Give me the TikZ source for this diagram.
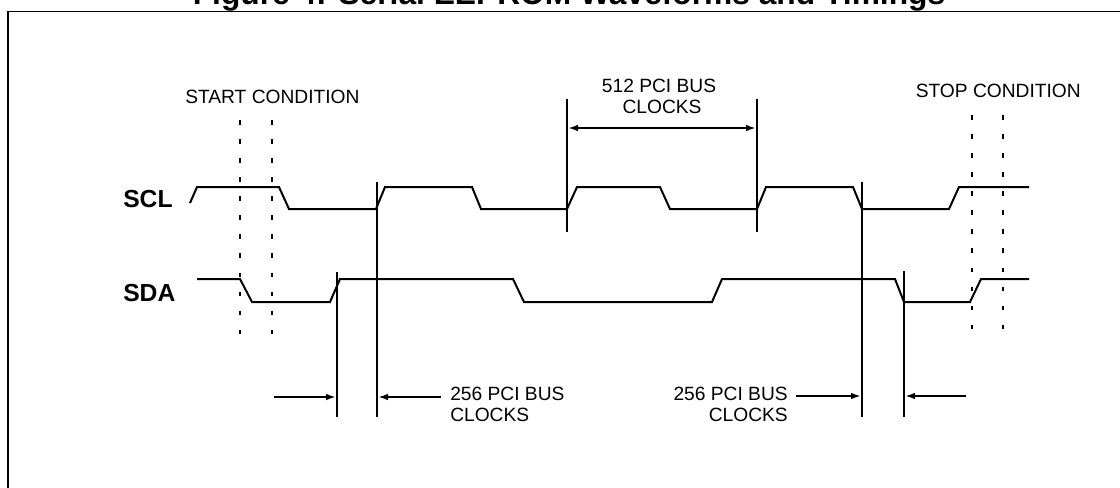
\documentclass[tikz,border=0pt]{standalone}
\usepackage{fontspec}
\setmainfont{Liberation Sans}
\usetikzlibrary{arrows.meta}
\begin{document}
\begin{tikzpicture}[x=0.75pt,y=-0.75pt,
  frame/.style={line width=1.4pt},
  wave/.style={line width=1.5pt, line join=miter},
  guide/.style={line width=1.5pt},
  dashguide/.style={line width=1.5pt, dash pattern=on 3.5pt off 10.8pt},
  dim/.style={line width=1.5pt, -{Latex[length=7.5pt,width=5pt]}},
  dimboth/.style={line width=1.5pt, {Latex[length=7.5pt,width=5pt]}-{Latex[length=7.5pt,width=5pt]}},
  lbl/.style={inner sep=0pt, font=\fontsize{14.4}{17}\selectfont},
  sig/.style={inner sep=0pt, font=\bfseries\fontsize{18.5}{21}\selectfont},
  ttl/.style={inner sep=0pt, font=\bfseries\fontsize{23.8}{28}\selectfont}]
\useasboundingbox (0,0) rectangle (1120,487);
% title (cut off by the top edge, as in the reference)
\node[ttl, anchor=base] (title) at (569,4.5) {Figure 4: Serial EEPROM Waveforms and Timings};
% frame
\draw[frame] (8,492) -- (8,11.5) -- (1125,11.5);
% labels
\node[lbl, anchor=base west] (start) at (185,103) {START CONDITION};
\node[lbl, anchor=base east] (stop) at (1081,97) {STOP CONDITION};
\node[lbl, anchor=base] (c512a) at (659,92) {512 PCI BUS};
\node[lbl, anchor=base] (c512b) at (662,113) {CLOCKS};
\node[lbl, anchor=base west] (c256la) at (450,400) {256 PCI BUS};
\node[lbl, anchor=base west] (c256lb) at (450,421) {CLOCKS};
\node[lbl, anchor=base east] (c256ra) at (788,400) {256 PCI BUS};
\node[lbl, anchor=base east] (c256rb) at (788,421) {CLOCKS};
\node[sig, anchor=base west] (scl) at (123,207) {SCL};
\node[sig, anchor=base west] (sda) at (123,301) {SDA};
% SCL waveform
\draw[wave] (190,203) -- (197,187) -- (279,187) -- (289,209) -- (376,209) -- (385,187)
  -- (472,187) -- (481,209) -- (567,209) -- (577,187) -- (660,187) -- (670,209)
  -- (757,209) -- (766,187) -- (853,187) -- (862,209) -- (949,209) -- (959,187) -- (1029,187);
% SDA waveform
\draw[wave] (197,279) -- (240,279) -- (252,302) -- (330,302) -- (340,279) -- (513,279)
  -- (524,302) -- (712,302) -- (722,279) -- (895,279) -- (904,302) -- (970,302)
  -- (981,279) -- (1029,279);
% dashed start / stop markers
\draw[dashguide] (240,120) -- (240,336);
\draw[dashguide] (272,120) -- (272,336);
\draw[dashguide] (972,115) -- (972,332);
\draw[dashguide] (1003,115) -- (1003,332);
% solid timing lines
\coordinate (v1t) at (337,272); \coordinate (v1b) at (337,417);
\coordinate (v2t) at (377,182); \coordinate (v2b) at (377,417);
\coordinate (v3t) at (567,99);  \coordinate (v3b) at (567,232);
\coordinate (v4t) at (757,99);  \coordinate (v4b) at (757,232);
\coordinate (v5t) at (862,182); \coordinate (v5b) at (862,417);
\coordinate (v6t) at (904,271); \coordinate (v6b) at (904,417);
\draw[guide] (v1t) -- (v1b);
\draw[guide] (v2t) -- (v2b);
\draw[guide] (v3t) -- (v3b);
\draw[guide] (v4t) -- (v4b);
\draw[guide] (v5t) -- (v5b);
\draw[guide] (v6t) -- (v6b);
% dimension arrows
\coordinate (a1s) at (274,397); \coordinate (a1e) at (336,397);
\coordinate (a2s) at (441,397); \coordinate (a2e) at (378,397);
\coordinate (a3s) at (568,128); \coordinate (a3e) at (756,128);
\coordinate (a4s) at (796,396); \coordinate (a4e) at (861,396);
\coordinate (a5s) at (966,396); \coordinate (a5e) at (905,396);
\draw[dim] (a1s) -- (a1e);
\draw[dim] (a2s) -- (a2e);
\draw[dimboth] (a3s) -- (a3e);
\draw[dim] (a4s) -- (a4e);
\draw[dim] (a5s) -- (a5e);
\end{tikzpicture}
\end{document}
